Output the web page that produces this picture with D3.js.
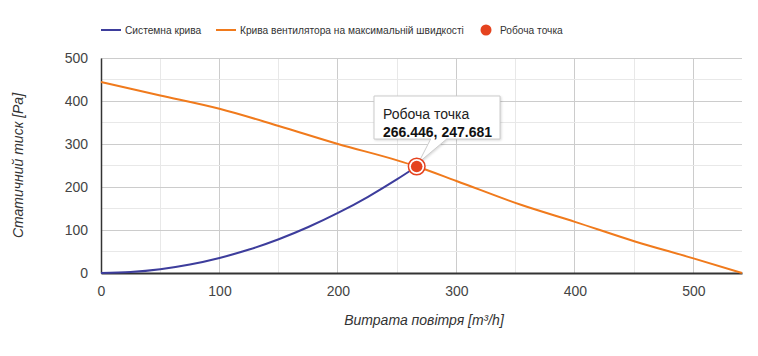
<!DOCTYPE html>
<html><head><meta charset="utf-8">
<script src="https://cdn.jsdelivr.net/npm/d3@7"></script>
<style>
body{margin:0;background:#fff;font-family:"Liberation Sans",Arial,sans-serif;}
svg{display:block;}
</style></head>
<body><svg id="c" width="758" height="356"></svg>
<script>
const systemX = [0, 25, 50, 75, 100, 125, 150, 175, 200, 225, 250, 266.446];
const systemY = [0, 2.2, 8.7, 19.6, 34.9, 54.5, 78.5, 106.9, 139.6, 176.7, 218.1, 247.681];
const fanX = [0, 50, 100, 150, 200, 250, 266.446, 300, 355, 400, 450, 500, 541];
const fanY = [444, 413, 382, 342, 300, 262, 247.681, 214, 158, 119, 74, 34, 0];
const workX = [266.446];
const workY = [247.681];
const xTicks = [0, 100, 200, 300, 400, 500];
const yTicks = [0, 100, 200, 300, 400, 500];
const legendLabels = ["Системна крива", "Крива вентилятора на максимальній швидкості", "Робоча точка"];
const xTitle = "Витрата повітря [m³/h]";
const yTitle = "Статичний тиск [Pa]";
const tipTitle = "Робоча точка";

const blue = "#3d3d9c", orange = "#f07a1c", red = "#e5431f";
const svg = d3.select("#c");
const L = 101, R = 742, T = 58, B = 273;
const x = d3.scaleLinear().domain([0, 541]).range([L, R]);
const y = d3.scaleLinear().domain([0, 500]).range([B, T]);

// grid
const g = svg.append("g");
d3.range(50, 541, 50).forEach(v => {
  g.append("line").attr("x1", x(v)).attr("x2", x(v)).attr("y1", T).attr("y2", B)
   .attr("stroke", v % 100 === 0 ? "#cccccc" : "#e8e8e8").attr("stroke-width", 1).attr("shape-rendering","crispEdges");
});
d3.range(50, 501, 50).forEach(v => {
  g.append("line").attr("x1", L).attr("x2", R).attr("y1", y(v)).attr("y2", y(v))
   .attr("stroke", v % 100 === 0 ? "#cccccc" : "#e8e8e8").attr("stroke-width", 1).attr("shape-rendering","crispEdges");
});

// axes
const xAxis = svg.append("g").attr("transform", `translate(0,${B})`)
  .call(d3.axisBottom(x).tickValues(xTicks).tickSize(0).tickPadding(13));
xAxis.select(".domain").attr("stroke", "#333").attr("stroke-width", 2);
const yAxis = svg.append("g").attr("transform", `translate(${L},0)`)
  .call(d3.axisLeft(y).tickValues(yTicks).tickSize(0).tickPadding(13));
yAxis.select(".domain").attr("stroke", "#333").attr("stroke-width", 1.5);
svg.selectAll(".tick text").attr("font-family", "Liberation Sans, Arial, sans-serif")
  .attr("font-size", 14).attr("fill", "#444");

svg.append("text").attr("x", 424).attr("y", 325).attr("text-anchor", "middle")
  .attr("font-size", 14).attr("font-style", "italic").attr("fill", "#333").text(xTitle);
svg.append("text").attr("transform", `translate(23,${(T + B) / 2}) rotate(-90)`).attr("text-anchor", "middle")
  .attr("font-size", 14).attr("font-style", "italic").attr("fill", "#333").text(yTitle);

// lines
const sysData = systemX.map((v, i) => [v, systemY[i]]);
const fanData = fanX.map((v, i) => [v, fanY[i]]);
const line = d3.line().x(d => x(d[0])).y(d => y(d[1])).curve(d3.curveMonotoneX);
svg.append("path").datum(fanData).attr("d", line).attr("fill", "none").attr("stroke", orange).attr("stroke-width", 2);
svg.append("path").datum(sysData).attr("d", line).attr("fill", "none").attr("stroke", blue).attr("stroke-width", 2);

// tooltip
const px = x(workX[0]), py = y(workY[0]);
const bx = 374, by = 96, bw = 126, bh = 43;
const tip = svg.append("g");
tip.append("path")
  .attr("d", `M${bx},${by} H${bx + bw} V${by + bh} H${px + 30} L${px + 2},${py - 4} L${px + 14},${by + bh} H${bx} Z`)
  .attr("fill", "#fff").attr("stroke", "#cccccc").attr("stroke-width", 1)
  .style("filter", "drop-shadow(1px 1px 1px rgba(0,0,0,0.15))");
tip.append("text").attr("x", 383).attr("y", 119).attr("font-size", 14).attr("fill", "#222").text(tipTitle);
tip.append("text").attr("x", 383).attr("y", 137).attr("font-size", 14).attr("font-weight", "bold").attr("fill", "#111")
  .text(`${workX[0]}, ${workY[0]}`);

// marker
workX.forEach((v, i) => {
  svg.append("circle").attr("cx", x(v)).attr("cy", y(workY[i])).attr("r", 8.3).attr("fill", "#fff").attr("stroke", red).attr("stroke-width", 1.5);
  svg.append("circle").attr("cx", x(v)).attr("cy", y(workY[i])).attr("r", 5.8).attr("fill", red);
});

// legend
const leg = svg.append("g").attr("font-size", 10.2).attr("fill", "#333");
leg.append("line").attr("x1", 101).attr("x2", 121).attr("y1", 30).attr("y2", 30).attr("stroke", blue).attr("stroke-width", 2);
leg.append("text").attr("x", 125).attr("y", 34).text(legendLabels[0]);
leg.append("line").attr("x1", 216).attr("x2", 236).attr("y1", 30).attr("y2", 30).attr("stroke", orange).attr("stroke-width", 2);
leg.append("text").attr("x", 240).attr("y", 34).text(legendLabels[1]);
leg.append("circle").attr("cx", 486).attr("cy", 30).attr("r", 5.5).attr("fill", red);
leg.append("text").attr("x", 500).attr("y", 34).text(legendLabels[2]);
</script></body></html>
